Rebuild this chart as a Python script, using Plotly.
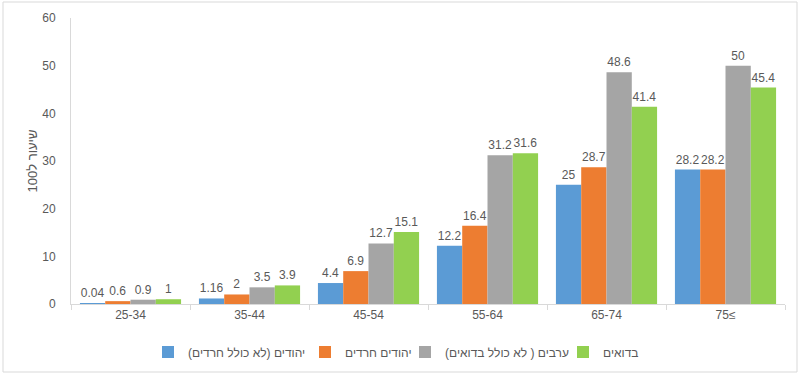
import plotly.graph_objects as go

categories = ["25-34", "35-44", "45-54", "55-64", "65-74", "75≤"]
series_names = [
    "יהודים (לא כולל חרדים)",
    "יהודים חרדים",
    "ערבים ( לא כולל בדואים)",
    "בדואים",
]
jews = [0.04, 1.16, 4.4, 12.2, 25, 28.2]
haredi = [0.6, 2, 6.9, 16.4, 28.7, 28.2]
arabs = [0.9, 3.5, 12.7, 31.2, 48.6, 50]
bedouin = [1, 3.9, 15.1, 31.6, 41.4, 45.4]
jews_lbl = ["0.04", "1.16", "4.4", "12.2", "25", "28.2"]
haredi_lbl = ["0.6", "2", "6.9", "16.4", "28.7", "28.2"]
arabs_lbl = ["0.9", "3.5", "12.7", "31.2", "48.6", "50"]
bedouin_lbl = ["1", "3.9", "15.1", "31.6", "41.4", "45.4"]
colors = ["#5B9BD5", "#ED7D31", "#A5A5A5", "#92D050"]
y_title = "שיעור ל100"

RLM = "\u200f"
FONT = "Liberation Sans, DejaVu Sans, Arial, sans-serif"
GRAY = "#595959"

# legend marker x positions (px) in the reference
legend_px = [168, 325, 425, 583]
legend_keys = ["legend", "legend2", "legend3", "legend4"]

fig = go.Figure()
for name, vals, lbls, col, lk in zip(series_names, [jews, haredi, arabs, bedouin],
                                     [jews_lbl, haredi_lbl, arabs_lbl, bedouin_lbl],
                                     colors, legend_keys):
    fig.add_trace(go.Bar(
        x=categories, y=vals, name=RLM + name + RLM, legend=lk,
        marker=dict(color=col, line=dict(width=0)),
        text=lbls, textposition="outside", cliponaxis=False,
        textfont=dict(size=12, color=GRAY, family=FONT),
    ))

layout_legends = {}
for lk, px in zip(legend_keys, legend_px):
    layout_legends[lk] = dict(
        orientation="h", xref="container", x=(px - 20) / 800, xanchor="left",
        yref="container", y=(376 - 352) / 376, yanchor="middle",
        font=dict(size=12, color=GRAY, family=FONT),
        bgcolor="rgba(0,0,0,0)",
    )

fig.update_layout(
    width=800, height=376,
    margin=dict(l=71, r=15, t=18, b=72, autoexpand=False),
    paper_bgcolor="white", plot_bgcolor="white",
    barmode="group", bargap=0.15, bargroupgap=0,
    font=dict(family=FONT, size=12, color=GRAY),
    showlegend=True,
    shapes=[dict(type="rect", xref="paper", yref="paper",
                 x0=(3 - 71) / 714, x1=(797 - 71) / 714,
                 y0=(304 - 372) / 286, y1=(304 - 2) / 286,
                 line=dict(color="#d9d9d9", width=1), fillcolor="rgba(0,0,0,0)",
                 layer="below")],
    **layout_legends,
)
fig.update_xaxes(
    showline=True, linecolor="#d9d9d9", linewidth=1,
    ticks="outside", tickson="boundaries", ticklen=5, tickcolor="#d9d9d9",
    showgrid=False, tickfont=dict(size=12, color=GRAY),
)
fig.update_yaxes(
    range=[0, 60], dtick=10, showgrid=False, zeroline=False,
    showline=True, linecolor="#d9d9d9", linewidth=1,
    ticks="", ticklabelstandoff=12, tickfont=dict(size=12, color=GRAY),
    title=dict(text=RLM + y_title + RLM, font=dict(size=13, color=GRAY), standoff=1),
)

fig.write_html("out.html", config={"displayModeBar": False},
               post_script="document.body.style.margin='0';document.body.style.overflow='hidden';")
